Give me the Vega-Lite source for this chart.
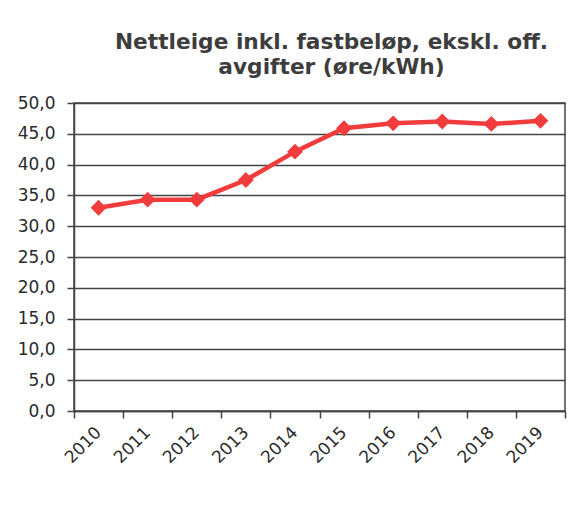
{
  "$schema": "https://vega.github.io/schema/vega-lite/v6.json",
  "autosize": {"type": "none"},
  "width": 491,
  "height": 308,
  "padding": {"left": 74, "top": 103, "right": 9, "bottom": 100},
  "background": "white",
  "title": {
    "text": ["Nettleige inkl. fastbeløp, ekskl. off.", "avgifter (øre/kWh)"],
    "font": "DejaVu Sans",
    "fontSize": 21.7,
    "fontWeight": "bold",
    "color": "#3d3d3d",
    "anchor": "middle",
    "offset": 15,
    "lineHeight": 25,
    "dx": 12
  },
  "config": {
    "view": {"stroke": "#444", "strokeWidth": 1.5},
    "axis": {
      "labelFont": "DejaVu Sans",
      "labelFontSize": 17,
      "labelColor": "#2a2a2a",
      "domainColor": "#444",
      "domainWidth": 1.5,
      "tickColor": "#444",
      "tickWidth": 1.5,
      "tickSize": 7,
      "title": null
    }
  },
  "data": {
    "values": [
      {"year": "2010", "value": 33.0},
      {"year": "2011", "value": 34.3},
      {"year": "2012", "value": 34.3},
      {"year": "2013", "value": 37.5},
      {"year": "2014", "value": 42.1},
      {"year": "2015", "value": 45.9},
      {"year": "2016", "value": 46.7},
      {"year": "2017", "value": 47.0},
      {"year": "2018", "value": 46.6},
      {"year": "2019", "value": 47.1}
    ]
  },
  "encoding": {
    "x": {
      "field": "year",
      "type": "ordinal",
      "scale": {"type": "band", "paddingInner": 0, "paddingOuter": 0},
      "axis": {"labelAngle": -45, "tickBand": "extent", "grid": false, "labelPadding": 6, "labelOffset": -6}
    },
    "y": {
      "field": "value",
      "type": "quantitative",
      "scale": {"domain": [0, 50], "nice": false, "zero": true},
      "axis": {
        "values": [0, 5, 10, 15, 20, 25, 30, 35, 40, 45, 50],
        "labelExpr": "replace(format(datum.value, '.1f'), '.', ',')",
        "grid": true,
        "gridColor": "#444",
        "gridWidth": 1.5,
        "gridOpacity": 1,
        "labelPadding": 12
      }
    }
  },
  "layer": [
    {"mark": {"type": "line", "color": "#f03c3c", "strokeWidth": 4.5}},
    {"mark": {"type": "point", "shape": "diamond", "filled": true, "color": "#f03c3c", "opacity": 1, "size": 250}}
  ]
}
